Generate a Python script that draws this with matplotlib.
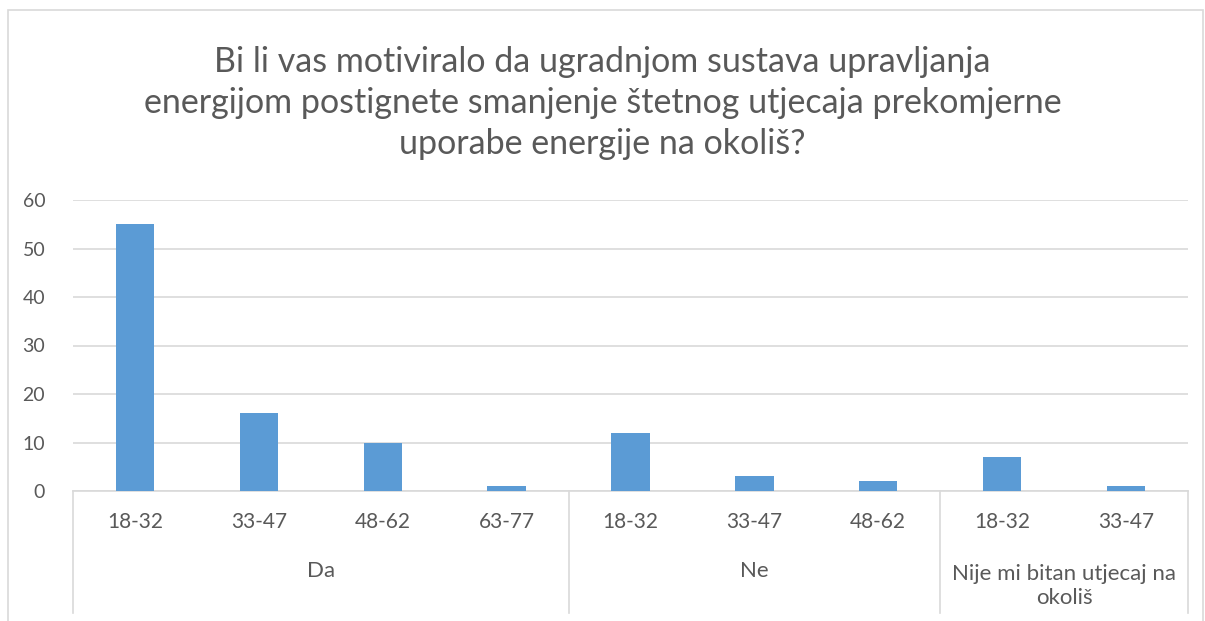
"""
    Grouped age-bracket bar chart with a two-level category axis
"""

import matplotlib
matplotlib.use('Agg')
import matplotlib.pyplot as plt
from matplotlib.transforms import blended_transform_factory
from matplotlib.patches import Rectangle
from matplotlib.lines import Line2D

title = ('Bi li vas motiviralo da ugradnjom sustava upravljanja\n'
         'energijom postignete smanjenje štetnog utjecaja prekomjerne\n'
         'uporabe energije na okoliš?')

groups = ['Da', 'Ne', 'Nije mi bitan utjecaj na\nokoliš']
age_labels = [['18-32', '33-47', '48-62', '63-77'],
              ['18-32', '33-47', '48-62'],
              ['18-32', '33-47']]
counts = [[55, 16, 10, 1],
          [12, 3, 2],
          [7, 1]]

BAR = '#5B9BD5'
GRID = '#D9D9D9'
TEXT = '#595959'

plt.rcParams['font.family'] = ['Lato', 'DejaVu Sans']

fig = plt.figure(figsize=(12.05, 6.21), dpi=100)
W, H = 1205, 621

# outer chart frame
fig.patches.append(Rectangle((8 / W, -0.05), (1203 - 8) / W, 1.05 - 10 / H,
                             transform=fig.transFigure, fill=False,
                             edgecolor=GRID, linewidth=1.2))

ax = fig.add_axes([73 / W, 1 - 491 / H, (1188 - 73) / W, (491 - 200) / H])

values = [v for grp in counts for v in grp]
ticks = [t for grp in age_labels for t in grp]
xs = list(range(len(values)))

ax.bar(xs, values, width=0.31, color=BAR, zorder=3)
ax.set_xlim(-0.5, len(values) - 0.5)
ax.set_ylim(0, 60)
ax.set_yticks(range(0, 61, 10))
ax.yaxis.grid(True, color=GRID, linewidth=1.2, zorder=0)
ax.tick_params(axis='y', length=0, labelsize=14, labelcolor=TEXT, pad=20)
ax.set_xticks([])
for side in ('top', 'right', 'left'):
    ax.spines[side].set_visible(False)
ax.spines['bottom'].set_color(GRID)
ax.spines['bottom'].set_linewidth(1.2)

tr = blended_transform_factory(ax.transData, fig.transFigure)

# first-level labels: age brackets
for x, lab in zip(xs, ticks):
    ax.text(x, 1 - 522 / H, lab, transform=tr, ha='center', va='center',
            fontsize=15, color=TEXT)

# second-level labels and separators
start = 0
bounds = [-0.5]
for grp, lab in zip(counts, groups):
    end = start + len(grp)
    centre = (start + end - 1) / 2
    ny = 1 - 571 / H if '\n' not in lab else 1 - 586 / H
    ax.text(centre, ny, lab, transform=tr, ha='center', va='center',
            fontsize=16, color=TEXT, linespacing=1.2)
    bounds.append(end - 0.5)
    start = end

for b in bounds:
    ax.add_line(Line2D([b, b], [1 - 491 / H, 1 - 613 / H], transform=tr,
                       color=GRID, linewidth=1.2, clip_on=False))

fig.text(0.5, 1 - 103 / H, title, ha='center', va='center', fontsize=24.5,
         color=TEXT, linespacing=1.35)

fig.savefig('out.png', dpi=100)
